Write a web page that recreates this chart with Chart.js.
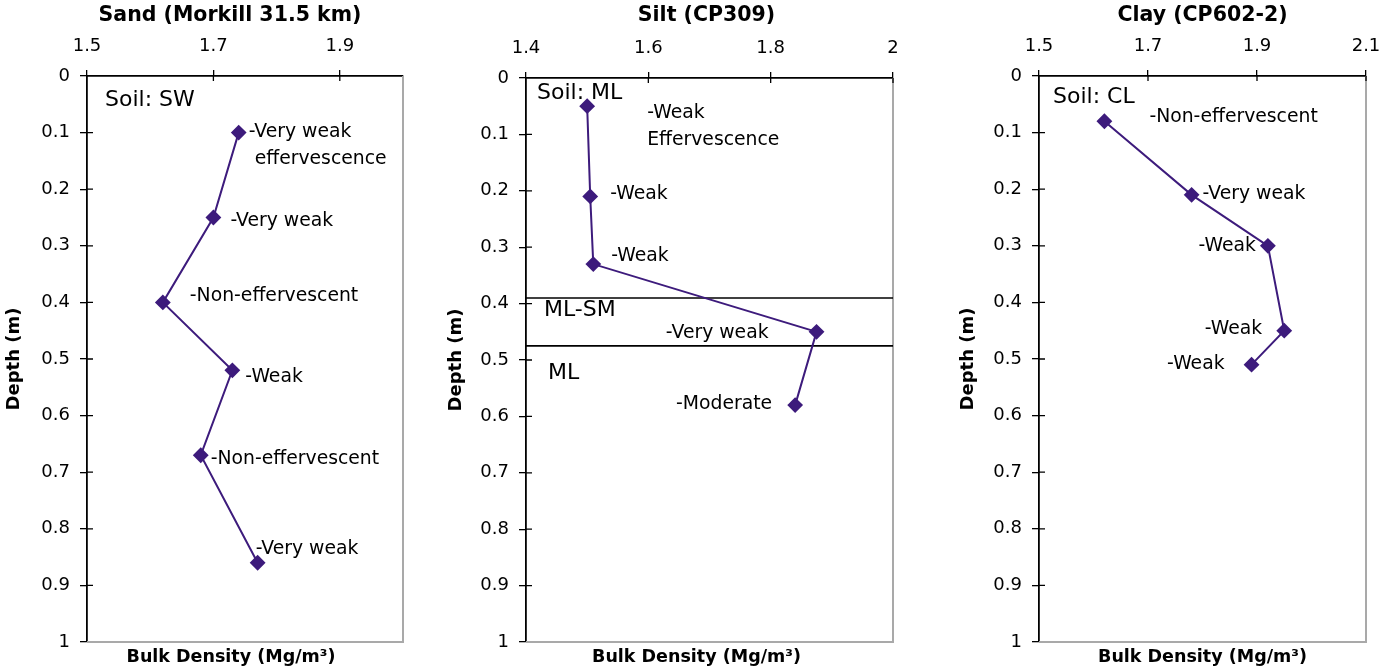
<!DOCTYPE html>
<html>
<head>
<meta charset="utf-8">
<script src="https://cdn.jsdelivr.net/npm/chart.js@4.4.1/dist/chart.umd.min.js"></script>
<style>
  html, body { margin: 0; padding: 0; background: #fff; overflow: hidden; }
  .panel { position: absolute; top: 0; height: 671px; }
</style>
</head>
<body>
<div class="panel" style="left:0px;width:430px"><canvas id="sandChart"></canvas></div>
<div class="panel" style="left:442px;width:478px"><canvas id="siltChart"></canvas></div>
<div class="panel" style="left:954px;width:440px"><canvas id="clayChart"></canvas></div>
<script>
// values
const chartTitles = ['Sand (Morkill 31.5 km)', 'Silt (CP309)', 'Clay (CP602-2)'];
const xAxisLabel = 'Bulk Density (Mg/m³)';
const yAxisLabel = 'Depth (m)';

const depthTicks = [0, 0.1, 0.2, 0.3, 0.4, 0.5, 0.6, 0.7, 0.8, 0.9, 1];

const sandRange = [1.5, 2.0];
const sandTicks = [1.5, 1.7, 1.9];
const sandDensity = [1.74, 1.70, 1.62, 1.73, 1.68, 1.77];
const sandDepth = [0.10, 0.25, 0.40, 0.52, 0.67, 0.86];
const sandNotes = ['-Very weak\n effervescence', '-Very weak', '-Non-effervescent', '-Weak', '-Non-effervescent', '-Very weak'];

const siltRange = [1.4, 2.0];
const siltTicks = [1.4, 1.6, 1.8, 2.0];
const siltDensity = [1.50, 1.505, 1.51, 1.875, 1.84];
const siltDepth = [0.05, 0.21, 0.33, 0.45, 0.58];
const siltNotes = ['-Weak\nEffervescence', '-Weak', '-Weak', '-Very weak', '-Moderate'];
const siltBoundaries = [0.39, 0.475];

const clayRange = [1.5, 2.1];
const clayTicks = [1.5, 1.7, 1.9, 2.1];
const clayDensity = [1.62, 1.78, 1.92, 1.95, 1.89];
const clayDepth = [0.08, 0.21, 0.30, 0.45, 0.51];
const clayNotes = ['-Non-effervescent', '-Very weak', '-Weak', '-Weak', '-Weak'];

const FONT = "'DejaVu Sans', sans-serif";
const purple = '#3d1b7c';

// titles, notes next to the points, zone names and the grey frame
const soilText = {
  id: 'soilText',
  beforeDatasetsDraw(chart) {
    const { ctx, chartArea: a } = chart;
    ctx.save();
    ctx.strokeStyle = '#a9a9a9';
    ctx.lineWidth = 2;
    ctx.beginPath();
    ctx.moveTo(a.left, a.bottom);
    ctx.lineTo(a.right, a.bottom);
    ctx.lineTo(a.right, a.top);
    ctx.stroke();

    // little tick marks inside the frame too
    ctx.strokeStyle = '#000';
    ctx.lineWidth = 1.3;
    const sx = chart.scales.x, sy = chart.scales.y;
    ctx.beginPath();
    sx.ticks.forEach(t => {
      const px = sx.getPixelForValue(t.value);
      if (px > a.left + 2) { ctx.moveTo(px, a.top); ctx.lineTo(px, a.top + 5); }
    });
    sy.ticks.forEach(t => {
      const py = sy.getPixelForValue(t.value);
      if (py > a.top + 2 && py < a.bottom - 2) { ctx.moveTo(a.left, py); ctx.lineTo(a.left + 6, py); }
    });
    ctx.stroke();
    ctx.restore();
  },
  afterDatasetsDraw(chart, args, o) {
    const { ctx, chartArea: a } = chart;
    const mid = (a.left + a.right) / 2;
    ctx.save();
    ctx.fillStyle = '#000';
    ctx.textBaseline = 'middle';
    ctx.textAlign = 'center';
    ctx.font = 'bold 20.5px ' + FONT;
    ctx.fillText(o.title, mid + o.titleDx, 16);
    ctx.font = 'bold 17.5px ' + FONT;
    ctx.fillText(xAxisLabel, mid + o.axisDx, a.bottom + 15);

    ctx.font = '22px ' + FONT;
    ctx.textAlign = 'left';
    const sy = chart.scales.y;
    o.tags.forEach(t => {
      ctx.fillText(t.text, a.left + t.dx, sy.getPixelForValue(t.at) + t.dy);
    });

    ctx.font = '18.8px ' + FONT;
    const pts = chart.getDatasetMeta(0).data;
    o.notes.forEach((note, i) => {
      const [dx, dy, align] = o.offsets[i];
      ctx.textAlign = align;
      note.split('\n').forEach((line, j) => {
        ctx.fillText(line, pts[i].x + dx, pts[i].y + dy + j * 27);
      });
    });
    ctx.restore();
  }
};

function makePanel(id, p) {
  const tickFont = { family: FONT, size: 18 };
  const datasets = [{
    data: p.density.map((v, i) => ({ x: v, y: p.depth[i] })),
    showLine: true,
    borderColor: purple,
    backgroundColor: purple,
    borderWidth: 2,
    pointStyle: 'rectRot',
    pointRadius: 6.5,
    pointHoverRadius: 6.5
  }];
  (p.boundaries || []).forEach(b => {
    datasets.push({
      data: [{ x: p.range[0], y: b }, { x: p.range[1], y: b }],
      showLine: true,
      borderColor: '#000',
      borderWidth: 1.6,
      pointRadius: 0
    });
  });

  return new Chart(document.getElementById(id), {
    type: 'scatter',
    data: { datasets: datasets },
    plugins: [soilText],
    options: {
      responsive: true,
      maintainAspectRatio: false,
      animation: false,
      events: [],
      layout: { padding: { left: 0, right: p.padRight, top: 0, bottom: 29 } },
      plugins: {
        legend: { display: false },
        tooltip: { enabled: false },
        soilText: {
          title: p.title,
          titleDx: p.titleDx,
          axisDx: p.axisDx,
          notes: p.notes,
          offsets: p.offsets,
          tags: p.tags
        }
      },
      scales: {
        x: {
          type: 'linear',
          position: 'top',
          min: p.range[0],
          max: p.range[1],
          afterBuildTicks: s => { s.ticks = p.ticks.map(v => ({ value: v })); },
          afterFit: s => { s.height = p.top; },
          ticks: { color: '#000', font: tickFont, padding: 13, autoSkip: false, maxRotation: 0,
                   callback: v => String(+v.toFixed(2)) },
          grid: { drawOnChartArea: false, tickLength: 6, color: '#000', lineWidth: 1.3 },
          border: { color: '#000', width: 1.8 }
        },
        y: {
          type: 'linear',
          reverse: true,
          min: 0,
          max: 1,
          afterBuildTicks: s => { s.ticks = depthTicks.map(v => ({ value: v })); },
          afterFit: s => { s.width = p.yWidth; },
          ticks: { color: '#000', font: tickFont, padding: 10, autoSkip: false,
                   callback: v => String(+v.toFixed(2)) },
          grid: { drawOnChartArea: false, tickLength: 7, color: '#000', lineWidth: 1.3 },
          border: { color: '#000', width: 1.8 },
          title: { display: true, text: yAxisLabel, color: '#000', padding: 4,
                   font: { family: FONT, size: 18, weight: 'bold' } }
        }
      }
    }
  });
}

makePanel('sandChart', {
  title: chartTitles[0], titleDx: -15, axisDx: -14,
  range: sandRange, ticks: sandTicks,
  density: sandDensity, depth: sandDepth, notes: sandNotes,
  offsets: [[10, 0, 'left'], [17, 4, 'left'], [27, -6, 'left'], [13, 7, 'left'], [10, 4, 'left'], [-2, -14, 'left']],
  tags: [{ text: 'Soil: SW', dx: 18, at: 0, dy: 24 }],
  yWidth: 87, padRight: 27, top: 76
});

makePanel('siltChart', {
  title: chartTitles[1], titleDx: -3, axisDx: -13,
  range: siltRange, ticks: siltTicks,
  density: siltDensity, depth: siltDepth, notes: siltNotes,
  boundaries: siltBoundaries,
  offsets: [[60, 7, 'left'], [20, -2, 'left'], [18, -8, 'left'], [-48, 1, 'right'], [-23, -1, 'right']],
  tags: [
    { text: 'Soil: ML', dx: 11, at: 0, dy: 15 },
    { text: 'ML-SM', dx: 18, at: siltBoundaries[0], dy: 12 },
    { text: 'ML', dx: 22, at: siltBoundaries[1], dy: 27 }
  ],
  yWidth: 84, padRight: 27, top: 78
});

makePanel('clayChart', {
  title: chartTitles[2], titleDx: 0, axisDx: 0,
  range: clayRange, ticks: clayTicks,
  density: clayDensity, depth: clayDepth, notes: clayNotes,
  offsets: [[45, -4, 'left'], [11, -1, 'left'], [-12, 0, 'right'], [-22, -2, 'right'], [-27, -1, 'right']],
  tags: [{ text: 'Soil: CL', dx: 14, at: 0, dy: 21 }],
  yWidth: 85, padRight: 28, top: 76
});
</script>
</body>
</html>
